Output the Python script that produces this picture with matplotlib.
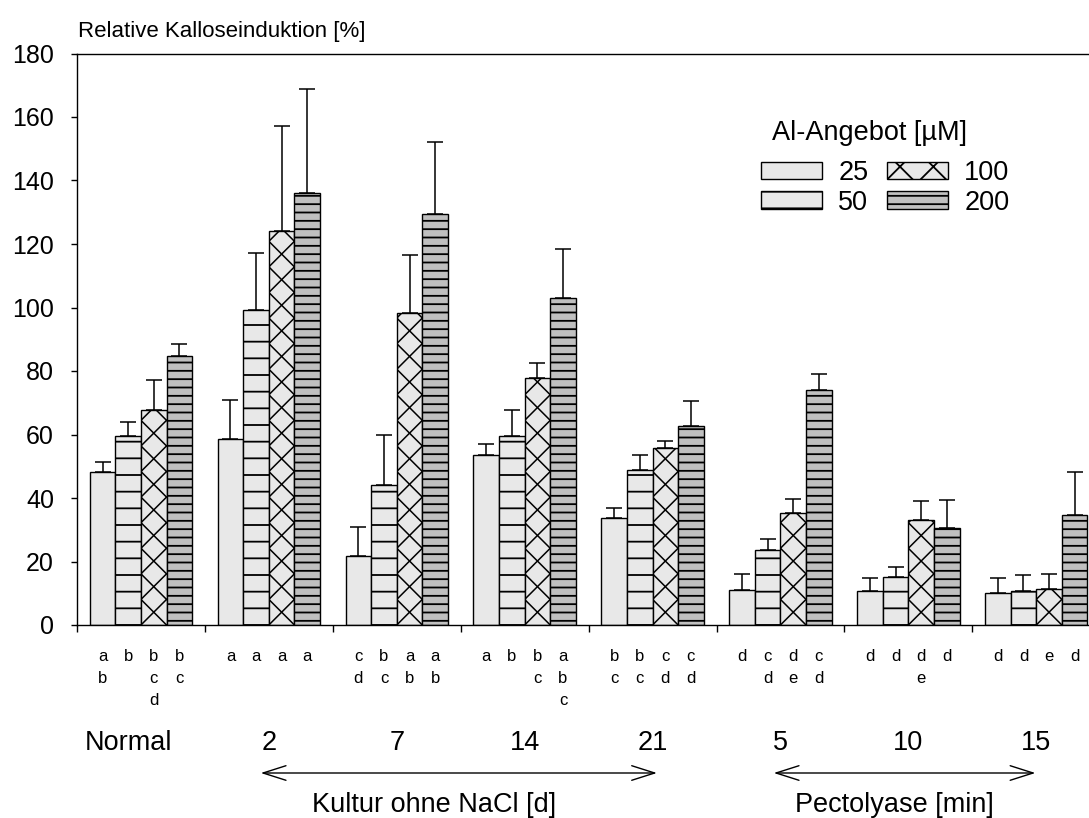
import numpy as np
import matplotlib.pyplot as plt
from matplotlib.patches import Patch, FancyArrowPatch
from matplotlib.transforms import blended_transform_factory

plt.rcParams['font.family'] = ['Liberation Sans', 'DejaVu Sans']
plt.rcParams['hatch.linewidth'] = 1.3
plt.rcParams['hatch.color'] = 'black'

# data
groups = ['Normal', '2', '7', '14', '21', '5', '10', '15']
doses = ['25', '50', '100', '200']

v25 = [48.3, 58.7, 21.8, 53.5, 33.7, 11.0, 10.6, 10.0]
v50 = [59.6, 99.2, 44.2, 59.4, 48.9, 23.7, 15.2, 10.7]
v100 = [67.8, 124.1, 98.2, 77.7, 55.7, 35.2, 33.0, 11.2]
v200 = [84.7, 136.2, 129.3, 103.0, 62.8, 74.1, 30.6, 34.5]

e25 = [3.0, 12.2, 9.2, 3.4, 3.0, 5.1, 4.2, 4.9]
e50 = [4.4, 18.1, 15.8, 8.2, 4.6, 3.4, 3.2, 5.2]
e100 = [9.4, 33.2, 18.2, 4.9, 2.4, 4.4, 6.2, 5.0]
e200 = [3.9, 32.6, 22.9, 15.5, 7.6, 4.8, 8.9, 13.6]

# significance letters, one string per bar (stacked top to bottom)
letters = [
    ['ab', 'b', 'bcd', 'bc'],
    ['a', 'a', 'a', 'a'],
    ['cd', 'bc', 'ab', 'ab'],
    ['a', 'b', 'bc', 'abc'],
    ['bc', 'bc', 'cd', 'cd'],
    ['d', 'cd', 'de', 'cd'],
    ['d', 'd', 'de', 'd'],
    ['d', 'd', 'e', 'd'],
]

values = [v25, v50, v100, v200]
errors = [e25, e50, e100, e200]
faces = ['#e8e8e8', '#e8e8e8', '#e8e8e8', '#c0c0c0']
hatches = [None, '-', None, '--']

W, H = 1089, 818
fig = plt.figure(figsize=(W / 100, H / 100), dpi=100)
ax = fig.add_axes([77 / W, 193 / H, 1012 / W, 571.5 / H])
ax.set_xlim(0, 1012 / 127.9)
ax.set_ylim(0, 180)

w = 0.2
x = np.arange(len(groups)) + 0.5
bar_sets = []
for i in range(4):
    xi = x + (i - 1.5) * w
    bars = ax.bar(xi, values[i], w, color=faces[i], edgecolor='black',
                  linewidth=1.0, hatch=hatches[i], zorder=2)
    bar_sets.append(bars)
    ax.errorbar(xi, values[i], yerr=[np.zeros(len(groups)), errors[i]],
                fmt='none', ecolor='black', elinewidth=1.1, capsize=6,
                capthick=1.1, zorder=3)

# big diamond pattern for the 100 µM bars
p0 = ax.transData.transform((0, 0))
px_x = ax.transData.transform((1, 0))[0] - p0[0]
px_y = ax.transData.transform((0, 1))[1] - p0[1]
dy = w * px_x / px_y
for r in bar_sets[2]:
    x0 = r.get_x()
    x1 = x0 + r.get_width()
    n = int(r.get_height() / dy) + 2
    for k in range(-1, n):
        for ya, yb in [(k * dy, (k + 1) * dy), ((k + 1) * dy, k * dy)]:
            ln, = ax.plot([x0, x1], [ya, yb], color='black', lw=1.1, zorder=2.5)
            ln.set_clip_path(r)

ax.spines['right'].set_visible(False)
for s in ['left', 'top', 'bottom']:
    ax.spines[s].set_linewidth(1.0)

ax.set_yticks(np.arange(0, 181, 20))
ax.tick_params(axis='y', direction='out', length=4.5, width=1.0,
               labelsize=18, pad=12)
ax.set_xticks(np.arange(0, 8))
ax.tick_params(axis='x', direction='out', length=5, width=1.0,
               labelbottom=False)

# letters under bars
tr = blended_transform_factory(ax.transData, fig.transFigure)
rows = [661, 683, 705]
for g in range(len(groups)):
    for i in range(4):
        for j, ch in enumerate(letters[g][i]):
            ax.text(x[g] + (i - 1.5) * w, 1 - rows[j] / H, ch, transform=tr,
                    ha='center', va='baseline', fontsize=12)

# group labels
for g, lab in enumerate(groups):
    dx = -0.094 if lab == 'Normal' else 0
    ax.text(x[g] + dx, 1 - 750 / H, lab, transform=tr, ha='center',
            va='baseline', fontsize=19.5)

# arrows and their labels
for xa, xb in [(1.415, 4.556), (5.426, 7.515)]:
    arr = FancyArrowPatch((xa, 1 - 773 / H), (xb, 1 - 773 / H), transform=tr,
                          arrowstyle='<->,head_length=1.1,head_width=0.35',
                          mutation_scale=15, lw=1.0, color='black',
                          clip_on=False)
    fig.add_artist(arr)
ax.text(2.795, 1 - 812 / H, 'Kultur ohne NaCl [d]', transform=tr,
        ha='center', va='baseline', fontsize=19.5)
ax.text(6.388, 1 - 812 / H, 'Pectolyase [min]', transform=tr,
        ha='center', va='baseline', fontsize=19.5)

fig.text(78 / W, 1 - 37.5 / H, 'Relative Kalloseinduktion [%]',
         ha='left', va='baseline', fontsize=16)

# legend
fig.text(772 / W, 1 - 140.5 / H, 'Al-Angebot [µM]', ha='left',
         va='baseline', fontsize=19.5)
handles = [
    Patch(facecolor=faces[0], edgecolor='black', linewidth=1.0),
    Patch(facecolor=faces[1], edgecolor='black', linewidth=1.0, hatch='-'),
    Patch(facecolor=faces[2], edgecolor='black', linewidth=1.0, hatch='x'),
    Patch(facecolor=faces[3], edgecolor='black', linewidth=1.0, hatch='--'),
]
leg = ax.legend(handles, doses, ncol=2,
                loc='upper left', bbox_to_anchor=(761 / W, 1 - 160 / H),
                bbox_transform=fig.transFigure, frameon=False,
                fontsize=19.5, handlelength=2.26, handleheight=0.63,
                handletextpad=0.6, columnspacing=0.67,
                labelspacing=0.13, borderpad=0, borderaxespad=0)

fig.savefig('out.png', dpi=100)
